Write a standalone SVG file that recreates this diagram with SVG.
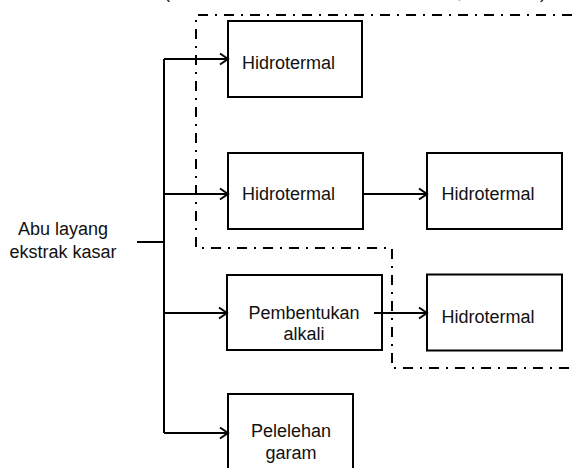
<svg xmlns="http://www.w3.org/2000/svg" width="572" height="468" viewBox="0 0 572 468">
<defs>
<style>
.box{fill:#fff;stroke:#000;stroke-width:2}
.t{font-family:"Liberation Sans",Arial,sans-serif;font-size:18px;fill:#111}
.c{text-anchor:middle}
.ln{fill:none;stroke:#000;stroke-width:2}
.dd{fill:none;stroke:#000;stroke-width:2;stroke-dasharray:10 7 2 7}
</style>
<marker id="ah" markerWidth="12" markerHeight="14" refX="10" refY="7" orient="auto" markerUnits="userSpaceOnUse">
<path d="M2,1.5 L10,7 L2,12.5" fill="none" stroke="#000" stroke-width="2"/>
</marker>
</defs>
<rect width="572" height="468" fill="#fff"/>
<g id="caption-fragments">
<text class="t" x="164" y="-2">(</text>
<text class="t" x="457" y="-2">,</text>
<text class="t" x="540" y="-2">)</text>
</g>
<g id="boundary">
<path class="dd" d="M572,15 H196 V248 H392 V368 H572"/>
</g>
<g id="n-abu">
<text class="t c" x="63" y="234.5">Abu layang</text>
<text class="t c" x="63" y="257.5">ekstrak kasar</text>
</g>
<g id="n-hidro1">
<rect class="box" x="228" y="21" width="134" height="76"/>
<text class="t" x="242" y="69">Hidrotermal</text>
</g>
<g id="n-hidro2">
<rect class="box" x="228" y="153" width="135" height="76"/>
<text class="t" x="242" y="199.5">Hidrotermal</text>
</g>
<g id="n-hidro3">
<rect class="box" x="427" y="153" width="135" height="76"/>
<text class="t" x="441.5" y="199.5">Hidrotermal</text>
</g>
<g id="n-alkali">
<rect class="box" x="227" y="275" width="155" height="75"/>
<text class="t c" x="304" y="319">Pembentukan</text>
<text class="t c" x="304" y="340">alkali</text>
</g>
<g id="n-hidro4">
<rect class="box" x="427" y="274.5" width="135" height="76"/>
<text class="t" x="441.5" y="322.5">Hidrotermal</text>
</g>
<g id="n-garam">
<rect class="box" x="228" y="394" width="125" height="90"/>
<text class="t c" x="291" y="437">Pelelehan</text>
<text class="t c" x="291" y="459">garam</text>
</g>
<g id="connectors">
<path class="ln" d="M137,242 H164"/>
<path class="ln" d="M164,59 V433"/>
<path class="ln" d="M164,59 H228" marker-end="url(#ah)"/>
<path class="ln" d="M164,194 H228" marker-end="url(#ah)"/>
<path class="ln" d="M164,313 H227" marker-end="url(#ah)"/>
<path class="ln" d="M164,433 H228" marker-end="url(#ah)"/>
<path class="ln" d="M363,194 H427" marker-end="url(#ah)"/>
<path class="ln" d="M374,313 H427" marker-end="url(#ah)"/>
</g>
</svg>
